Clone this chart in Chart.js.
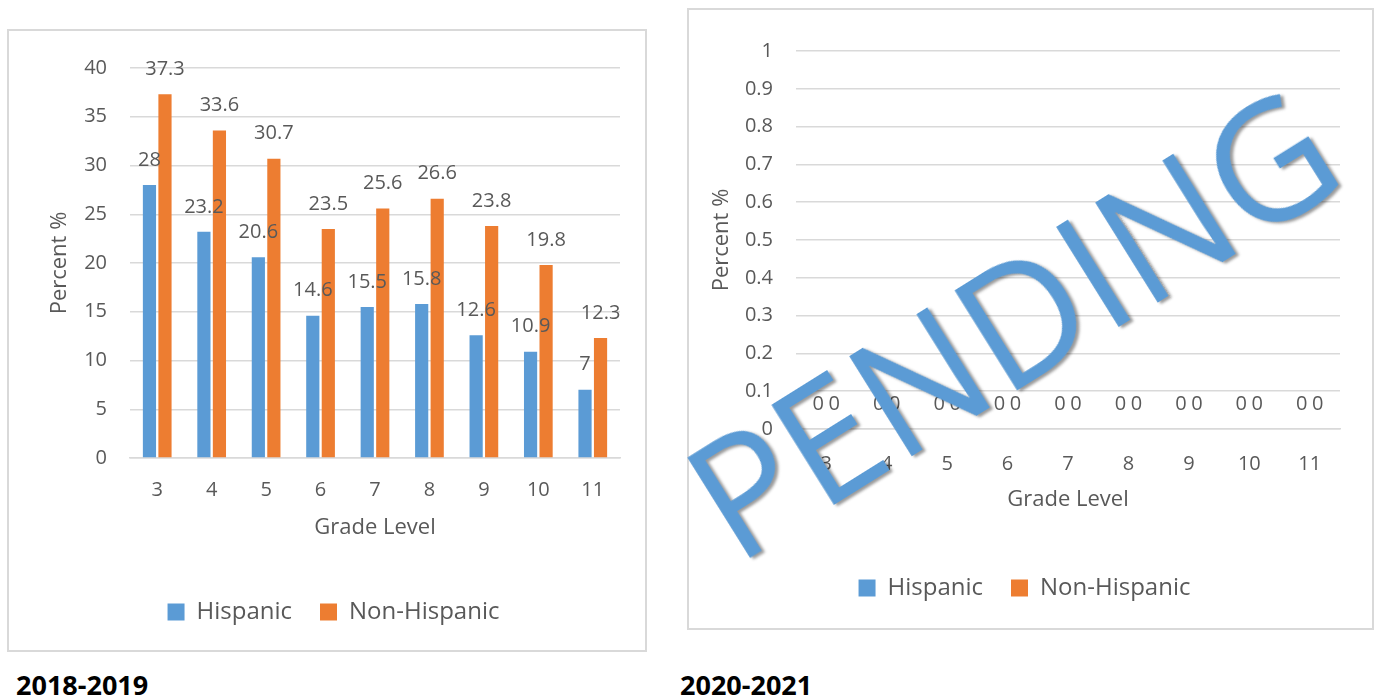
<!DOCTYPE html>
<html>
<head>
<meta charset="utf-8">
<script src="https://cdn.jsdelivr.net/npm/chart.js@4/dist/chart.umd.min.js"></script>
<style>
  body { margin: 0; background: #fff; width: 1380px; height: 700px; position: relative; overflow: hidden; font-family: "Open Sans", sans-serif; }
  .box { position: absolute; border: 2px solid #d9d9d9; background: #fff; }
  .caption { position: absolute; font: 700 27px/1 "Open Sans", sans-serif; color: #000; }
  #pending {
    position: absolute; left: 1010px; top: 320px;
    transform: translate(-50%, -50%) rotate(-32deg);
    font: 400 165px/1 "Open Sans", sans-serif; color: #5b9bd5;
    white-space: nowrap; pointer-events: none;
    text-shadow: 2px 3px 3px rgba(0, 0, 0, 0.4);
  }
</style>
</head>
<body>

<div class="box" style="left:7px; top:29px; width:636px; height:619px;">
  <canvas id="chart1819" width="636" height="619"></canvas>
</div>
<div class="box" style="left:687px; top:8px; width:683px; height:618px;">
  <canvas id="chart2021" width="683" height="618"></canvas>
</div>

<div class="caption" style="left:16px; top:671px;">2018-2019</div>
<div class="caption" style="left:680px; top:671px;">2020-2021</div>

<div id="pending">PENDING</div>

<script>
// data

var grades = ["3", "4", "5", "6", "7", "8", "9", "10", "11"];

var hispanic1819 = [28, 23.2, 20.6, 14.6, 15.5, 15.8, 12.6, 10.9, 7];
var nonHispanic1819 = [37.3, 33.6, 30.7, 23.5, 25.6, 26.6, 23.8, 19.8, 12.3];

var hispanic2021 = [0, 0, 0, 0, 0, 0, 0, 0, 0];
var nonHispanic2021 = [0, 0, 0, 0, 0, 0, 0, 0, 0];

var yMax1819 = 40;
var yStep1819 = 5;
var yMax2021 = 1;
var yStep2021 = 0.1;

var BLUE = "#5b9bd5";
var ORANGE = "#ed7d31";
var TEXT = "#595959";
var GRID = "#d9d9d9";
var FONT = "'Open Sans', sans-serif";


// value labels above the bars

var valueLabels = {
    id: "valueLabels",
    afterDatasetsDraw: function (chart) {
        var ctx = chart.ctx;
        ctx.save();
        ctx.font = "20px " + FONT;
        ctx.fillStyle = TEXT;
        ctx.textAlign = "center";
        ctx.textBaseline = "middle";
        chart.data.datasets.forEach(function (ds, i) {
            chart.getDatasetMeta(i).data.forEach(function (bar, j) {
                ctx.fillText(String(ds.data[j]), bar.x, bar.y - 25);
            });
        });
        ctx.restore();
    }
};


function makeChart(id, hisp, nonHisp, yMax, yStep, lay) {

    return new Chart(document.getElementById(id), {
        type: "bar",

        data: {
            labels: grades,
            datasets: [
                {
                    label: "Hispanic",
                    data: hisp,
                    backgroundColor: BLUE,
                    categoryPercentage: lay.cat,
                    barPercentage: 0.85
                },
                {
                    label: "Non-Hispanic",
                    data: nonHisp,
                    backgroundColor: ORANGE,
                    categoryPercentage: lay.cat,
                    barPercentage: 0.85
                }
            ]
        },

        options: {
            responsive: false,
            animation: false,
            layout: {
                padding: { left: lay.left, right: lay.right, top: lay.top, bottom: lay.bottom }
            },
            plugins: {
                tooltip: { enabled: false },
                legend: {
                    position: "bottom",
                    labels: {
                        boxWidth: 17,
                        boxHeight: 17,
                        padding: 28,
                        color: TEXT,
                        font: { family: FONT, size: 24 }
                    }
                }
            },
            scales: {
                x: {
                    grid: { display: false, drawTicks: false },
                    border: { display: true, color: GRID, width: 1.5 },
                    ticks: { color: TEXT, padding: lay.tickPad, font: { family: FONT, size: 20 } },
                    title: {
                        display: true,
                        text: "Grade Level",
                        color: TEXT,
                        font: { family: FONT, size: 22 },
                        padding: { top: 0, bottom: lay.titlePad }
                    },
                    afterFit: function (scale) { scale.height = lay.xHeight; }
                },
                y: {
                    min: 0,
                    max: yMax,
                    grid: { color: GRID, lineWidth: 1.5, drawTicks: false },
                    border: { display: false },
                    ticks: {
                        stepSize: yStep,
                        color: TEXT,
                        padding: 23,
                        font: { family: FONT, size: 20 },
                        callback: function (v) { return String(Number(v.toFixed(2))); }
                    },
                    title: {
                        display: true,
                        text: "Percent %",
                        color: TEXT,
                        font: { family: FONT, size: 22 },
                        padding: 0
                    },
                    afterFit: function (scale) { scale.width = lay.yWidth; }
                }
            }
        },

        plugins: [valueLabels]
    });
}


// 2018-2019

makeChart("chart1819", hispanic1819, nonHispanic1819, yMax1819, yStep1819, {
    left: 38, right: 25, top: 37, bottom: 16, yWidth: 83,
    xHeight: 114, tickPad: 20, titlePad: 31, cat: 0.57
});


// 2020-2021

makeChart("chart2021", hispanic2021, nonHispanic2021, yMax2021, yStep2021, {
    left: 20, right: 32, top: 41, bottom: 18, yWidth: 87,
    xHeight: 119, tickPad: 23, titlePad: 35, cat: 0.53
});
</script>
</body>
</html>
